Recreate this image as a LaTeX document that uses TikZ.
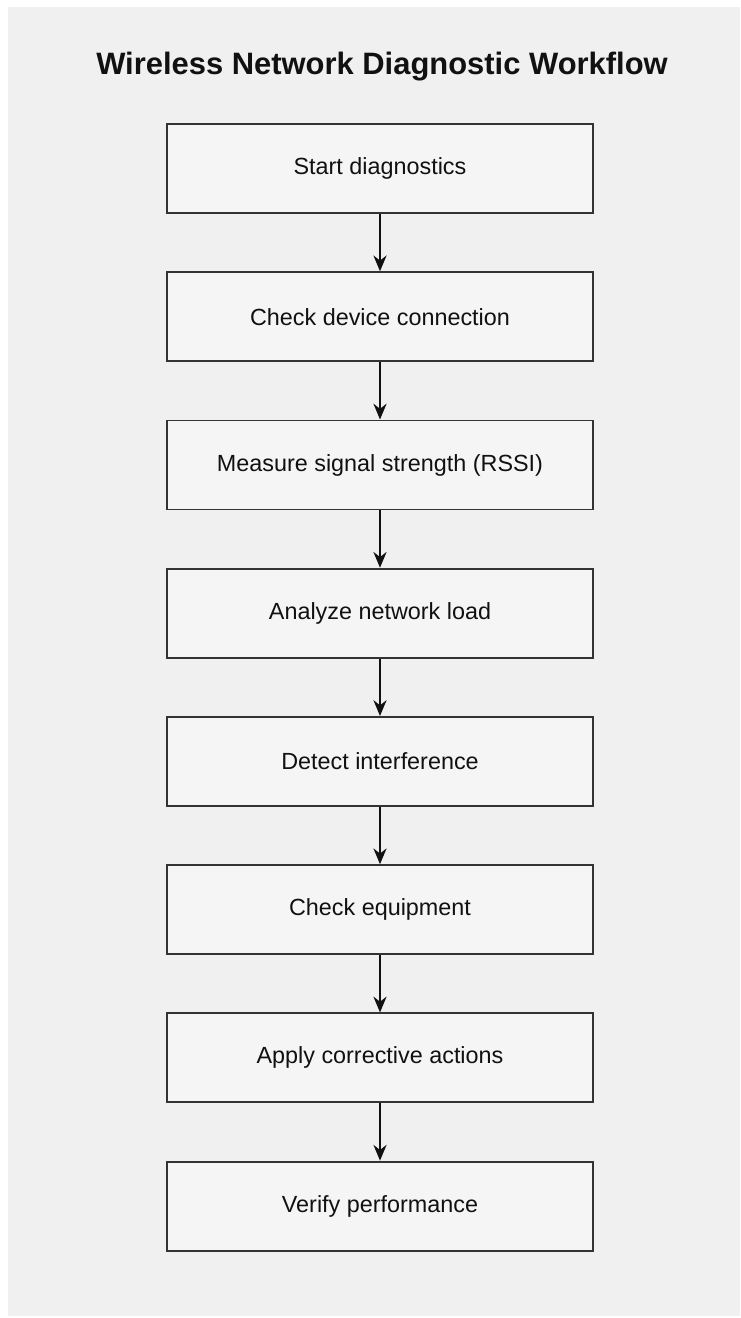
\documentclass[tikz,border=0pt]{standalone}
\usepackage{fontspec}
\setmainfont{Liberation Sans}
\usepackage{xcolor}
\usepackage{tikz}
\usetikzlibrary{arrows.meta,positioning}
\definecolor{PageGray}{HTML}{F0F0F0}
\definecolor{BoxFill}{HTML}{F5F5F5}
\definecolor{BoxLine}{HTML}{333333}
\definecolor{InkBlack}{HTML}{111111}
\tikzset{
  SB/.style={rectangle,minimum width=8.52cm,minimum height=1.78cm,
             text centered,align=center,draw=BoxLine,fill=BoxFill,
             line width=1.1pt,text=InkBlack,
             font=\fontsize{13.3}{16}\selectfont},
  arr/.style={-{Stealth[length=9pt,width=7.5pt]},line width=0.9pt,InkBlack},
  TT/.style={font=\fontsize{17.6}{21}\selectfont\bfseries,text=InkBlack,anchor=base}
}
\begin{document}
\begin{tikzpicture}[node distance=1.146cm]
  \useasboundingbox (0,0) rectangle (14.82,-26.36);
  \fill[PageGray] (0.16,-0.14) rectangle (14.80,-26.32);
  \node[TT] (title) at (7.64,-1.5) {Wireless Network Diagnostic Workflow};

  \node[SB] (start) at (7.6,-3.37) {Start diagnostics};
  \node[SB,below=of start] (conn) {Check device connection};
  \node[SB,below=of conn] (rssi) {Measure signal strength (RSSI)};
  \node[SB,below=of rssi] (load) {Analyze network load};
  \node[SB,below=of load] (intf) {Detect interference};
  \node[SB,below=of intf] (equip) {Check equipment};
  \node[SB,below=of equip] (fix) {Apply corrective actions};
  \node[SB,below=of fix] (verify) {Verify performance};

  \draw[arr](start)--(conn);
  \draw[arr](conn)--(rssi);
  \draw[arr](rssi)--(load);
  \draw[arr](load)--(intf);
  \draw[arr](intf)--(equip);
  \draw[arr](equip)--(fix);
  \draw[arr](fix)--(verify);
\end{tikzpicture}
\end{document}
